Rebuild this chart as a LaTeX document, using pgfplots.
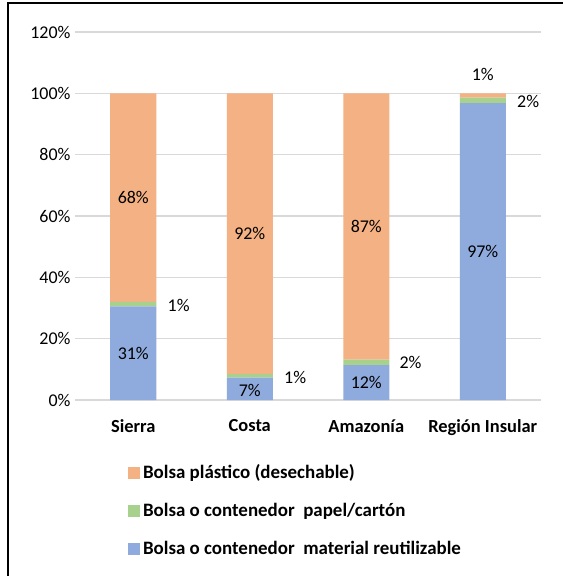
\documentclass[border=0pt]{standalone}
\usepackage{pgfplots}
\pgfplotsset{compat=1.18}
\usepackage{fontspec}
\setmainfont{Carlito}
\definecolor{cOr}{HTML}{F4B183}
\definecolor{cGr}{HTML}{A9D18E}
\definecolor{cBl}{HTML}{8FAADC}
\definecolor{gridc}{HTML}{D9D9D9}
\begin{document}
\begin{tikzpicture}
\useasboundingbox (0,0) rectangle (563bp,-576bp);
\fill[white] (0,0) rectangle (563bp,-576bp);
\draw[line width=2bp] (8bp,-3bp) rectangle (640bp,-640bp);
\begin{axis}[
  at={(75bp,-400bp)}, anchor=south west, scale only axis,
  width=466bp, height=368bp,
  ymin=0, ymax=120, xmin=-0.5, xmax=3.5,
  ybar stacked, bar width=46bp,
  xtick={0,1,2,3}, xticklabels={Sierra,Costa,Amazonía,Región Insular},
  ytick={0,20,...,120},
  yticklabel={\pgfmathprintnumber{\tick}\%},
  /pgf/number format/assume math mode=true,
  ymajorgrids, grid style={color=gridc, line width=1.3bp},
  axis line style={draw=none}, major tick length=0pt,
  tick label style={font=\fontsize{18}{20}\selectfont, text=black},
  xticklabel style={font=\fontsize{18.5}{20}\selectfont\bfseries, yshift=-16bp},
  yticklabel style={xshift=-1bp},
  reverse legend,
  legend cell align=left,
  legend style={at={(0.107,-0.165)}, anchor=north west, draw=none, fill=none,
    font=\fontsize{19}{21}\selectfont\bfseries, row sep=19bp,
    nodes={inner xsep=3bp}},
]
\addplot[fill=cBl, draw=none, legend image code/.code={\fill[cBl] (0bp,-6bp) rectangle (12bp,6bp);}]
  coordinates {(0,30.5) (1,7.3) (2,11.4) (3,96.8)};
\addlegendentry{Bolsa o contenedor\ \ material reutilizable}
\addplot[fill=cGr, draw=none, legend image code/.code={\fill[cGr] (0bp,-6bp) rectangle (12bp,6bp);}]
  coordinates {(0,1.5) (1,1.1) (2,1.8) (3,1.8)};
\addlegendentry{Bolsa o contenedor\ \ papel/cartón}
\addplot[fill=cOr, draw=none, legend image code/.code={\fill[cOr] (0bp,-6bp) rectangle (12bp,6bp);}]
  coordinates {(0,68.0) (1,91.6) (2,86.8) (3,1.4)};
\addlegendentry{Bolsa plástico (desechable)}
\end{axis}
\begin{axis}[
  at={(75bp,-400bp)}, anchor=south west, scale only axis,
  width=466bp, height=368bp,
  ymin=0, ymax=120, xmin=-0.5, xmax=3.5,
  hide axis, clip=false,
]
\addplot[draw=none, mark=none, nodes near coords, point meta=explicit symbolic,
  every node near coord/.append style={anchor=center, font=\fontsize{18}{20}\selectfont, text=black}]
  coordinates {
  (0,15.25) [31\%] (0.39,30.9) [1\%] (0,66) [68\%]
  (1,3.2) [7\%] (1.39,7.4) [1\%] (1,54.2) [92\%]
  (2,5.6) [12\%] (2.38,12.2) [2\%] (2,56.6) [87\%]
  (3,48.4) [97\%] (3.39,97.4) [2\%] (3,106.2) [1\%]
  };
\end{axis}
\end{tikzpicture}
\end{document}
